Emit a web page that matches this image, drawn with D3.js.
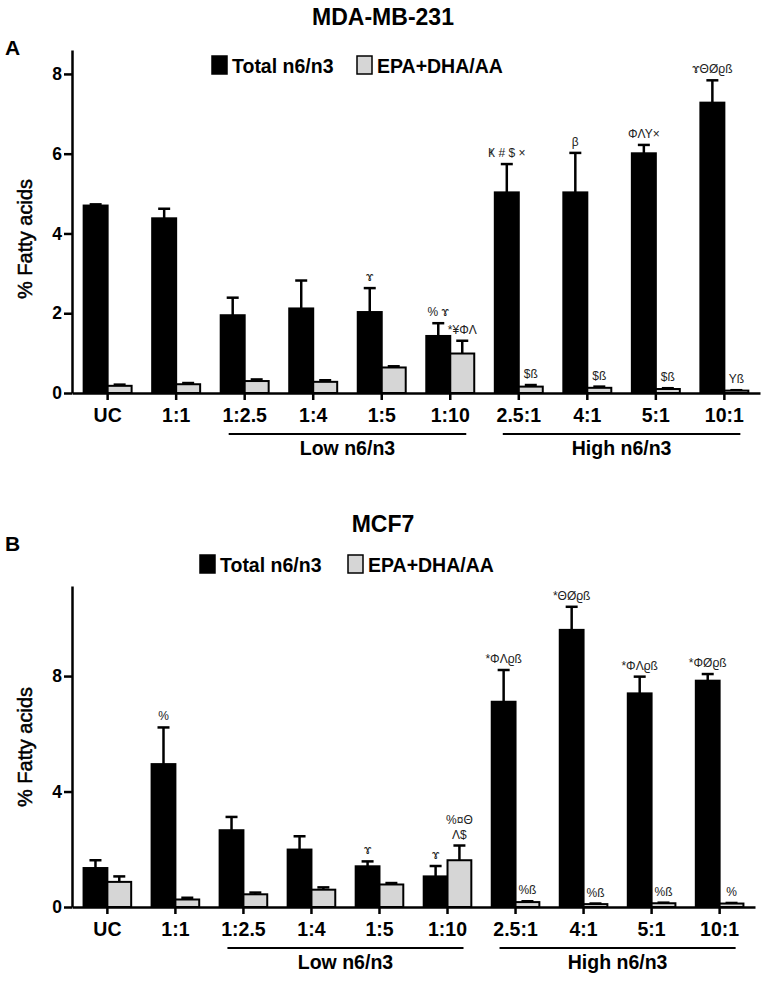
<!DOCTYPE html>
<html>
<head>
<meta charset="utf-8">
<script src="https://cdn.jsdelivr.net/npm/d3@7"></script>
<style>
    body { margin: 0; background: #fff; }
    svg { display: block; }
    text { font-family: "Liberation Sans", Arial, sans-serif; }
</style>
</head>
<body>
<svg id="fig" width="766" height="981"></svg>
<script>
const categories = ["UC", "1:1", "1:2.5", "1:4", "1:5", "1:10", "2.5:1", "4:1", "5:1", "10:1"]
const seriesNames = ["Total n6/n3", "EPA+DHA/AA"]
const seriesFills = ["#000", "#d6d6d6"]

// MDA-MB-231
const mdaTotal = [4.70, 4.38, 1.95, 2.12, 2.03, 1.43, 5.03, 5.03, 6.01, 7.28]
const mdaTotalErr = [0.03, 0.24, 0.44, 0.70, 0.60, 0.32, 0.71, 0.99, 0.21, 0.56]
const mdaEpa = [0.18, 0.22, 0.30, 0.28, 0.64, 0.99, 0.16, 0.13, 0.10, 0.06]
const mdaEpaErr = [0.03, 0.03, 0.04, 0.04, 0.03, 0.32, 0.04, 0.03, 0.02, 0.01]
const mdaTotalNotes = ["", "", "", "", "ɤ", "% ɤ", "Ҝ # $ ×", "β", "ΦΛΥ×", "ɤΘØϱß"]
const mdaEpaNotes = ["", "", "", "", "", "*¥ΦΛ", "$ß", "$ß", "$ß", "Υß"]
const mdaTicks = [0, 2, 4, 6, 8]

// MCF7
const mcfTotal = [1.35, 4.95, 2.66, 1.99, 1.41, 1.06, 7.11, 9.60, 7.40, 7.84]
const mcfTotalErr = [0.27, 1.27, 0.46, 0.46, 0.17, 0.36, 1.10, 0.80, 0.58, 0.23]
const mcfEpa = [0.87, 0.26, 0.44, 0.60, 0.78, 1.62, 0.17, 0.10, 0.13, 0.12]
const mcfEpaErr = [0.19, 0.06, 0.06, 0.08, 0.05, 0.51, 0.03, 0.02, 0.02, 0.02]
const mcfTotalNotes = ["", "%", "", "", "ɤ", "ɤ", "*ΦΛϱß", "*ΘØϱß", "*ΦΛϱß", "*ΦØϱß"]
const mcfEpaNotes = ["", "", "", "", "", "%¤Θ\nΛ$", "%ß", "%ß", "%ß", "%"]
const mcfTicks = [0, 4, 8]

const groups = [
    { label: "Low n6/n3", from: "1:2.5", to: "1:10" },
    { label: "High n6/n3", from: "2.5:1", to: "10:1" }
]

const svg = d3.select('#fig')

const panels = [
    {
        title: "MDA-MB-231", letter: "A", titleY: 25, letterY: 55, legendX: [212, 357], legendY: 56, labelY: 239,
        x0: 72, x1: 760, y0: 393, yTop: 50, yMax: 8.6, ticks: mdaTicks,
        values: [mdaTotal, mdaEpa], errors: [mdaTotalErr, mdaEpaErr], notes: [mdaTotalNotes, mdaEpaNotes]
    },
    {
        title: "MCF7", letter: "B", titleY: 532, letterY: 551, legendX: [200, 348], legendY: 555, labelY: 747,
        x0: 72, x1: 755, y0: 907, yTop: 586, yMax: 11.12, ticks: mcfTicks,
        values: [mcfTotal, mcfEpa], errors: [mcfTotalErr, mcfEpaErr], notes: [mcfTotalNotes, mcfEpaNotes]
    }
]

panels.forEach(drawPanel)

function drawPanel(p) {
    const g = svg.append('g')
    const x = d3.scaleBand().domain(categories).range([p.x0, p.x1]).paddingInner(0.3).paddingOuter(0.17)
    const xs = d3.scaleBand().domain([0, 1]).range([0, x.bandwidth()])
    const y = d3.scaleLinear().domain([0, p.yMax]).range([p.y0, p.yTop])

    g.append('text').attr('x', 383).attr('y', p.titleY).attr('text-anchor', 'middle')
        .attr('font-size', 23).attr('font-weight', 'bold').text(p.title)
    g.append('text').attr('x', 5).attr('y', p.letterY)
        .attr('font-size', 21).attr('font-weight', 'bold').text(p.letter)

    // legend
    seriesNames.forEach((name, i) => {
        g.append('rect').attr('x', p.legendX[i]).attr('y', p.legendY).attr('width', 15).attr('height', 18)
            .attr('fill', seriesFills[i]).attr('stroke', '#000').attr('stroke-width', 1.5)
        g.append('text').attr('x', p.legendX[i] + 20).attr('y', p.legendY + 17)
            .attr('font-size', 19.5).attr('font-weight', 'bold').text(name)
    })

    // bars
    const rows = []
    categories.forEach((c, ci) => {
        p.values.forEach((vals, si) => {
            rows.push({ cat: c, s: si, v: vals[ci], e: p.errors[si][ci], note: p.notes[si][ci] })
        })
    })
    const cx = d => x(d.cat) + xs(d.s) + xs.bandwidth() / 2
    const bar = g.selectAll('.bar').data(rows).enter().append('g').attr('class', 'bar')
    bar.append('line')
        .attr('x1', cx).attr('x2', cx)
        .attr('y1', d => y(d.v)).attr('y2', d => y(d.v + d.e))
        .attr('stroke', '#000').attr('stroke-width', 2.5)
    bar.append('line')
        .attr('x1', d => cx(d) - 6).attr('x2', d => cx(d) + 6)
        .attr('y1', d => y(d.v + d.e)).attr('y2', d => y(d.v + d.e))
        .attr('stroke', '#000').attr('stroke-width', 2.5)
    bar.append('rect')
        .attr('x', d => x(d.cat) + xs(d.s))
        .attr('y', d => y(d.v))
        .attr('width', xs.bandwidth())
        .attr('height', d => y(0) - y(d.v))
        .attr('fill', d => seriesFills[d.s])
        .attr('stroke', '#000').attr('stroke-width', 2)
    bar.filter(d => d.note).append('text')
        .attr('text-anchor', 'middle')
        .attr('font-family', '"DejaVu Sans", sans-serif')
        .attr('font-size', 12).attr('fill', '#222')
        .each(function (d) {
            const lines = d.note.split('\n')
            const base = y(d.v + d.e) - 7
            d3.select(this).selectAll('tspan').data(lines).enter().append('tspan')
                .attr('x', cx(d))
                .attr('y', (l, i) => base - (lines.length - 1 - i) * 15)
                .text(l => l)
        })

    // axes
    const yAxis = g.append('g').attr('transform', `translate(${p.x0},0)`)
        .call(d3.axisLeft(y).tickValues(p.ticks).tickSize(8).tickSizeOuter(0).tickPadding(2).tickFormat(d3.format('d')))
    const xAxis = g.append('g').attr('transform', `translate(0,${p.y0})`)
        .call(d3.axisBottom(x).tickSize(7).tickSizeOuter(0).tickPadding(8))
    ;[yAxis, xAxis].forEach(a => {
        a.select('.domain').attr('stroke-width', 2.5)
        a.selectAll('.tick line').attr('stroke-width', 2.5)
        a.selectAll('text').attr('font-family', '"Liberation Sans", Arial, sans-serif').attr('font-weight', 'bold').attr('fill', '#000')
    })
    yAxis.selectAll('text').attr('font-size', 17.5)
    xAxis.selectAll('text').attr('font-size', 19.5)

    g.append('text')
        .attr('transform', `translate(32,${p.labelY}) rotate(-90)`)
        .attr('text-anchor', 'middle').attr('font-size', 20)
        .attr('stroke', '#000').attr('stroke-width', 0.5)
        .text('% Fatty acids')

    // group brackets
    groups.forEach(gr => {
        const a = x(gr.from) + x.bandwidth() / 2 - 16
        const b = x(gr.to) + x.bandwidth() / 2 + 16
        g.append('line').attr('x1', a).attr('x2', b).attr('y1', p.y0 + 41).attr('y2', p.y0 + 41)
            .attr('stroke', '#000').attr('stroke-width', 1.8)
        g.append('text').attr('x', (a + b) / 2).attr('y', p.y0 + 62).attr('text-anchor', 'middle')
            .attr('font-size', 19.5).attr('font-weight', 'bold').text(gr.label)
    })
}
</script>
</body>
</html>
